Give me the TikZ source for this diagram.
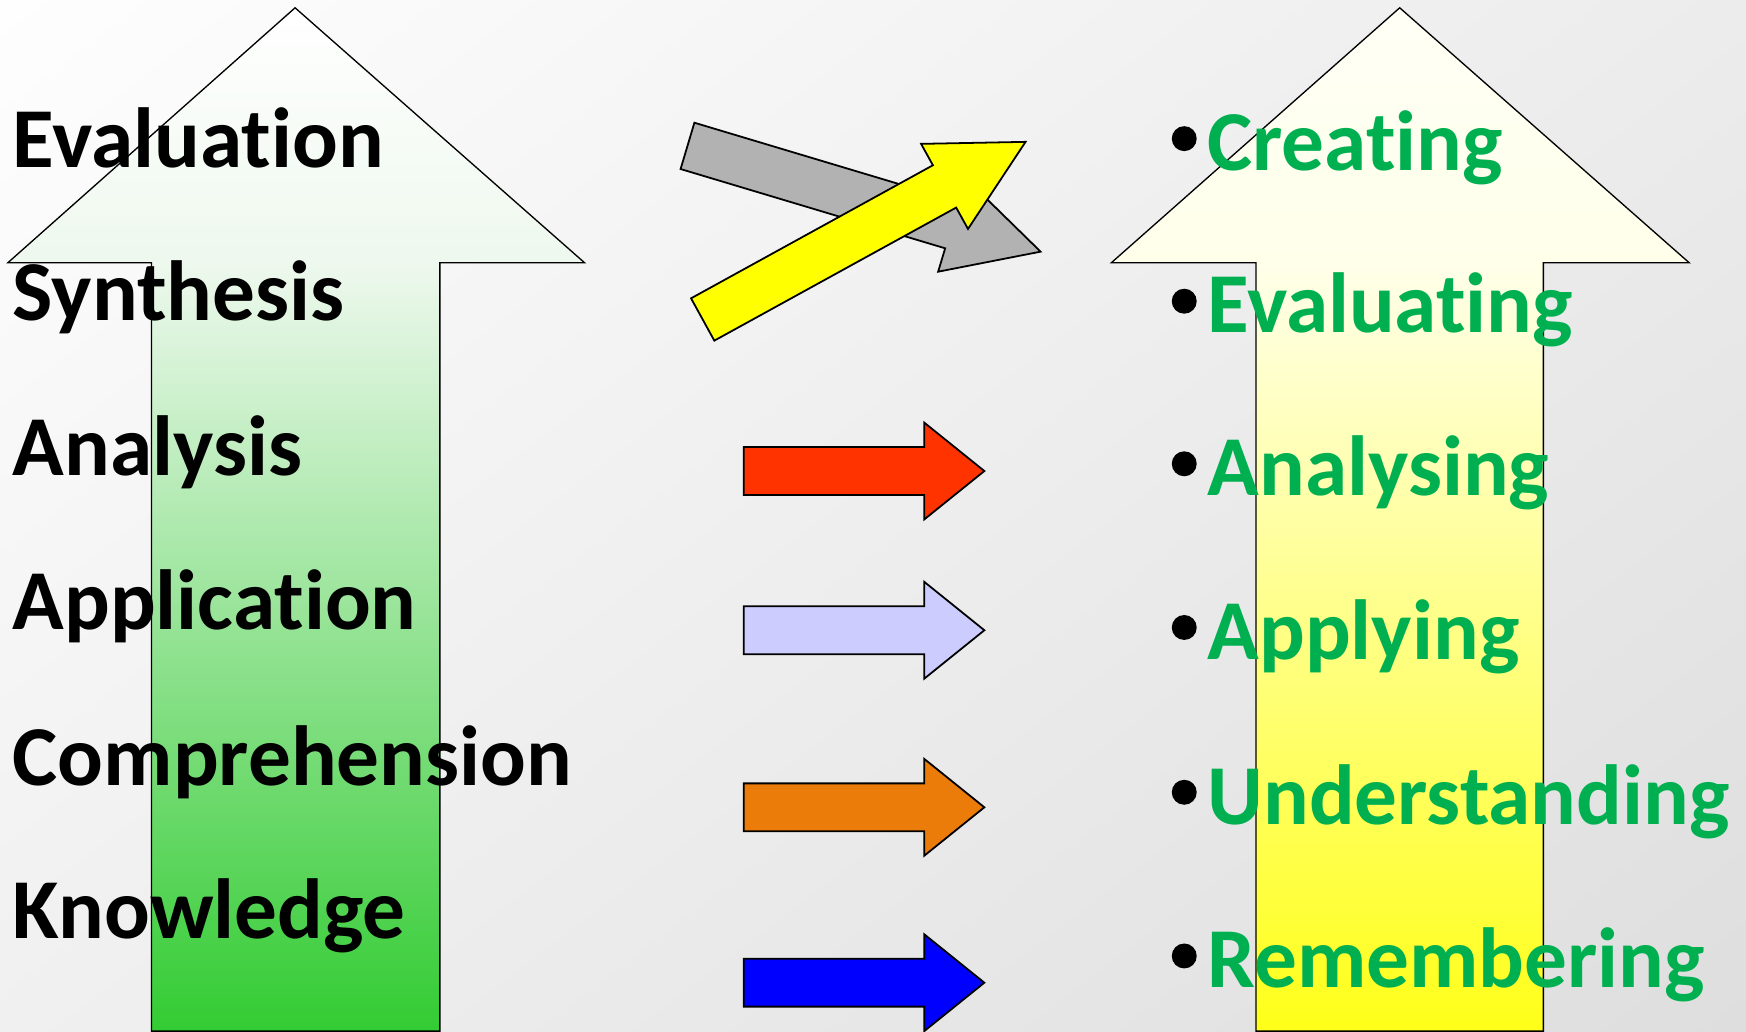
\documentclass[tikz,border=0pt]{standalone}
\usepackage{fontspec}
\setmainfont{Carlito}[Ligatures={NoCommon}]
\usetikzlibrary{shadings}
\definecolor{officegreen}{HTML}{00B050}
\definecolor{arrgreen}{HTML}{33CC33}
\definecolor{arrgreenbase}{HTML}{EEF8EE}
\definecolor{arryellow}{HTML}{FFFF19}
\definecolor{arryellowbase}{HTML}{FFFFEA}
\definecolor{ivory}{HTML}{FFFFF6}
\definecolor{redarr}{HTML}{FF3300}
\definecolor{lavarr}{HTML}{CCCCFF}
\definecolor{orarr}{HTML}{EC7C0A}
\definecolor{bluearr}{HTML}{0000FF}
\definecolor{greyarr}{HTML}{B2B2B2}
\definecolor{yelarr}{HTML}{FFFF00}
\definecolor{bgul}{HTML}{FEFEFE}
\definecolor{bgur}{HTML}{ECECEC}
\definecolor{bgll}{HTML}{F0F0F0}
\definecolor{bglr}{HTML}{DEDEDE}
\pgfdeclareverticalshading{greenarrowshade}{100bp}{color(0bp)=(arrgreen); color(25bp)=(arrgreen);
  color(62.5bp)=(arrgreenbase); color(75bp)=(white); color(100bp)=(white)}
\pgfdeclareverticalshading{yellowarrowshade}{100bp}{color(0bp)=(arryellow); color(25bp)=(arryellow);
  color(62.5bp)=(arryellowbase); color(75bp)=(ivory); color(100bp)=(ivory)}
\newcommand\hblockarrow[2]{%
  \path[smallarrow, fill=#2] (668,{#1-21.5}) -- (830,{#1-21.5}) -- (830,{#1-43.5}) -- (884,#1)
    -- (830,{#1+43.5}) -- (830,{#1+21.5}) -- (668,{#1+21.5}) -- cycle;}
\begin{document}
\begin{tikzpicture}[x=0.5pt,y=-0.5pt,
  bigarrow/.style={draw=black, line width=0.6pt},
  smallarrow/.style={draw=black, line width=0.8pt},
  lvl/.style={anchor=base west, inner sep=0pt, font=\fontsize{38.3}{46}\selectfont\bfseries, text=black},
  newlvl/.style={lvl, text=officegreen},
  dot/.style={circle, fill=black, inner sep=0pt, minimum size=11.2pt}]
\useasboundingbox (0,0) rectangle (1568,926);
% background
\shade[upper left=bgul, upper right=bgur, lower left=bgll, lower right=bglr]
  (0,0) rectangle (1568,926);
% big left arrow
\path[bigarrow, shading=greenarrowshade]
  (265,7) -- (525,236) -- (395,236) -- (395,926) -- (136,926) -- (136,236) -- (7,236) -- cycle;
% big right arrow
\path[bigarrow, shading=yellowarrowshade]
  (1257,7) -- (1517,236) -- (1386,236) -- (1386,926) -- (1128,926) -- (1128,236) -- (998,236) -- cycle;
% grey arrow
\path[smallarrow, fill=greyarr] (623.6,110.2) -- (861.2,181.4) -- (867.5,160.4) -- (934.5,226)
  -- (842.5,244.0) -- (848.8,223.0) -- (611.2,151.8) -- cycle;
% yellow arrow
\path[smallarrow, fill=yelarr] (620.6,267.9) -- (837.8,148.4) -- (827.2,129.2) -- (921.0,127.4)
  -- (869.3,205.6) -- (858.7,186.4) -- (641.5,305.9) -- cycle;
% horizontal arrows
\hblockarrow{423}{redarr}
\hblockarrow{566}{lavarr}
\hblockarrow{725}{orarr}
\hblockarrow{882.5}{bluearr}
% left labels
\node[lvl] (ev) at (11,150) {Evaluation};
\node[lvl] (sy) at (11,288) {Synthesis};
\node[lvl] (an) at (11,427) {Analysis};
\node[lvl] (ap) at (11,565) {Application};
\node[lvl] (co) at (11,705) {Comprehension};
\node[lvl] (kn) at (11,843) {Knowledge};
% right labels
\node[dot] (b1) at (1063.5,124.5) {};
\node[newlvl] (cr) at (1084,153) {Creating};
\node[dot] (b2) at (1063.5,270.5) {};
\node[newlvl] (eg) at (1084,299) {Evaluating};
\node[dot] (b3) at (1063.5,416.5) {};
\node[newlvl] (ag) at (1084,445) {Analysing};
\node[dot] (b4) at (1063.5,563.5) {};
\node[newlvl] (apg) at (1084,592) {Applying};
\node[dot] (b5) at (1063.5,711.5) {};
\node[newlvl] (un) at (1084,740) {Understanding};
\node[dot] (b6) at (1063.5,858.5) {};
\node[newlvl] (re) at (1084,887) {Remembering};
\end{tikzpicture}
\end{document}
